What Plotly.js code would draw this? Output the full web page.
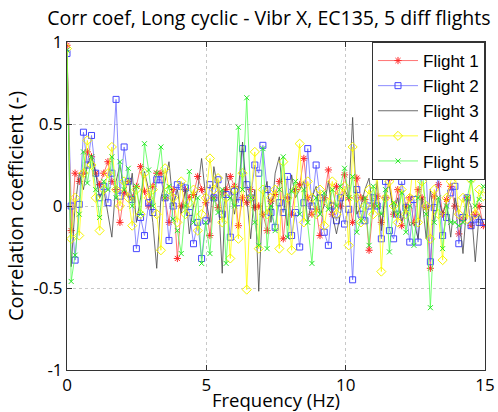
<!DOCTYPE html>
<html>
<head>
<meta charset="utf-8">
<script src="https://cdn.plot.ly/plotly-3.0.1.min.js"></script>
<style>html,body{margin:0;padding:0;background:#fff;}#chart{width:498px;height:412px;}</style>
</head>
<body>
<div id="chart"></div>
<script>
const freq = [0,0.15,0.29,0.44,0.59,0.73,0.88,1.03,1.17,1.32,
 1.47,1.61,1.76,1.9,2.05,2.2,2.34,2.49,2.64,2.78,
 2.93,3.08,3.22,3.37,3.52,3.66,3.81,3.96,4.1,4.25,
 4.39,4.54,4.69,4.83,4.98,5.13,5.27,5.42,5.57,5.71,
 5.86,6.01,6.15,6.3,6.45,6.59,6.74,6.88,7.03,7.18,
 7.32,7.47,7.62,7.76,7.91,8.06,8.2,8.35,8.5,8.64,
 8.79,8.94,9.08,9.23,9.38,9.52,9.67,9.81,9.96,10.11,
 10.25,10.4,10.55,10.69,10.84,10.99,11.13,11.28,11.43,11.57,
 11.72,11.87,12.01,12.16,12.3,12.45,12.6,12.74,12.89,13.04,
 13.18,13.33,13.48,13.62,13.77,13.92,14.06,14.21,14.36,14.5,
 14.65,14.79,14.94];

const flight1 = [0.98,-0.15,0.2,0.15,0.2,0.33,0.3,0.2,0.13,0.2,
 0.27,0.15,0.1,-0.1,0.08,0.15,0.05,0.12,0.24,0.09,
 0.0,0.12,0.2,0.2,0.05,-0.1,0.1,-0.32,0.0,0.1,
 0.05,0.07,0.18,0.1,0.02,-0.18,0.05,-0.01,0.08,0.1,
 0.18,0.12,-0.12,0.05,0.02,0.1,-0.01,0.0,-0.05,-0.15,
 0.03,0.07,0.15,-0.2,0.05,-0.05,0.1,0.13,0.29,0.05,
 -0.05,-0.02,-0.18,0.05,0.22,-0.05,0.12,0.0,0.19,0.05,
 -0.1,0.17,0.05,0.04,-0.27,0.0,0.06,-0.1,0.05,0.17,
 -0.05,0.1,-0.12,0.0,0.05,-0.1,0.1,0.05,-0.01,-0.38,
 0.06,0.13,-0.05,0.04,0.12,0.0,-0.17,-0.08,0.05,-0.12,
 -0.05,0.0,-0.12];

const flight2 = [0.93,0.0,-0.33,0.01,0.45,0.25,0.43,0.2,0.05,0.12,
 0.02,0.2,0.65,0.06,0.36,0.15,0.04,-0.26,-0.07,-0.18,
 0.02,-0.04,0.16,0.16,0.05,-0.21,0.0,0.13,0.12,0.11,
 -0.04,-0.23,-0.1,-0.32,-0.09,0.13,0.05,0.16,-0.05,0.07,
 -0.19,0.09,0.02,0.35,0.13,0.05,0.25,0.2,0.37,0.1,
 -0.04,-0.13,0.02,-0.04,0.18,-0.18,-0.04,-0.25,0.02,0.35,
 0.0,0.25,0.05,-0.16,-0.24,0.0,-0.09,0.05,-0.11,-0.02,
 -0.45,0.1,-0.05,-0.09,0.0,0.05,0.0,-0.2,0.15,-0.15,
 -0.2,-0.05,0.15,-0.01,-0.22,0.04,-0.22,0.2,0.19,-0.34,
 -0.01,0.2,-0.18,-0.07,0.08,0.12,-0.23,-0.07,0.05,-0.12,
 -0.08,-0.1,-0.1];

const flight3 = [0.95,-0.37,0.0,0.2,0.1,0.25,0.31,0.2,0.05,0.1,
 -0.05,-0.19,0.15,0.25,0.1,0.05,0.2,-0.1,0.05,0.21,
 0.1,-0.1,-0.38,0.05,0.15,0.27,0.0,0.1,-0.05,0.1,
 -0.17,0.0,0.1,0.29,0.05,-0.1,0.24,0.1,-0.41,0.2,
 0.1,-0.05,0.1,0.39,0.05,-0.2,0.1,-0.52,0.05,0.15,
 -0.1,0.2,0.3,0.05,-0.12,0.19,0.05,0.1,0.15,-0.1,
 0.05,0.12,-0.05,0.0,0.15,-0.05,-0.17,-0.05,0.1,0.05,
 0.54,-0.05,0.0,0.1,0.17,-0.05,0.15,-0.15,0.1,0.12,
 -0.05,0.05,-0.1,0.0,-0.12,-0.1,-0.2,0.05,-0.2,0.1,
 -0.1,0.05,-0.05,0.02,-0.19,0.05,-0.05,-0.29,0.05,0.0,
 -0.34,-0.05,-0.1];

const flight4 = [0.96,-0.2,0.05,-0.18,0.2,0.4,0.25,0.05,-0.15,0.1,
 0.2,0.36,0.1,0.0,0.15,0.05,-0.12,0.1,-0.05,0.2,
 0.05,0.1,-0.05,-0.27,0.23,0.1,0.05,-0.1,0.15,-0.05,
 0.02,0.1,-0.15,-0.05,0.05,0.29,0.1,0.17,-0.1,0.05,
 -0.32,0.1,-0.2,0.2,-0.51,0.05,0.33,-0.26,0.1,-0.05,
 0.05,0.1,-0.26,0.27,0.05,-0.27,0.1,0.38,-0.1,0.15,
 0.05,-0.05,0.1,-0.12,0.02,0.15,-0.05,0.08,0.12,-0.24,
 0.36,0.05,-0.1,0.0,0.1,-0.05,0.21,-0.4,0.05,0.15,
 0.0,-0.1,0.1,-0.05,0.05,0.3,-0.1,0.15,0.0,-0.2,
 0.1,-0.05,-0.33,0.05,0.15,0.22,-0.05,0.05,-0.08,0.16,
 -0.05,0.1,0.06];

const flight5 = [0.95,-0.46,-0.3,-0.05,0.33,0.14,0.3,0.1,-0.07,0.15,
 0.1,0.3,0.05,0.27,0.1,0.23,0.0,0.12,-0.05,0.38,
 0.22,0.0,0.2,0.36,0.05,0.12,-0.08,-0.15,-0.29,0.0,
 0.21,-0.1,0.05,-0.35,-0.1,-0.29,0.05,-0.04,0.1,-0.35,
 0.05,0.0,0.48,0.1,0.66,0.05,-0.1,-0.24,0.35,-0.26,
 0.0,-0.15,0.1,0.3,-0.19,0.09,0.15,-0.05,0.1,-0.1,
 -0.35,0.05,-0.05,0.08,-0.02,0.1,0.0,0.12,0.23,0.05,
 0.18,-0.16,-0.09,0.05,-0.24,0.12,0.0,-0.05,0.1,-0.28,
 0.02,-0.05,0.08,-0.16,0.0,-0.24,0.05,0.24,-0.05,-0.62,
 -0.1,0.05,-0.26,0.0,-0.1,-0.1,-0.12,-0.1,0.05,0.16,
 0.0,0.04,0.12];

const seriesNames = ['Flight 1','Flight 2','Flight 3','Flight 4','Flight 5'];
const xTickVals = [0,5,10,15];
const xTickText = ['0','5','10','15'];
const yTickVals = [-1,-0.5,0,0.5,1];
const yTickText = ['-1','-0.5','0','0.5','1'];

const styles = [
  {color:'rgb(255,80,80)', marker:{symbol:'asterisk-open', size:6, color:'rgb(255,40,40)', line:{width:1, color:'rgb(255,40,40)'}}, mode:'lines+markers'},
  {color:'rgb(110,110,255)', marker:{symbol:'square-open', size:6, color:'rgb(70,70,255)', line:{width:1}}, mode:'lines+markers'},
  {color:'rgb(70,70,70)', marker:null, mode:'lines'},
  {color:'rgb(255,255,0)', marker:{symbol:'diamond-open', size:7, color:'rgb(245,245,0)', line:{width:1}}, mode:'lines+markers'},
  {color:'rgb(80,255,80)', marker:{symbol:'x-thin-open', size:5, color:'rgb(40,230,40)', line:{width:1, color:'rgb(40,230,40)'}}, mode:'lines+markers'}
];
const ys = [flight1, flight2, flight3, flight4, flight5];

const traces = ys.map((y, k) => {
  const t = {x: freq, y: y, name: seriesNames[k], type:'scatter', mode: styles[k].mode,
    line:{color: styles[k].color, width:0.8}};
  if (styles[k].marker) t.marker = styles[k].marker;
  return t;
});

const tickFont = {family:'Open Sans, Liberation Sans, sans-serif', size:17, color:'#000'};
const xTitleFont = {family:'Open Sans, Liberation Sans, sans-serif', size:18.5, color:'#000'};
const yTitleFont = {family:'Open Sans, Liberation Sans, sans-serif', size:20, color:'#000'};
const layout = {
  width:498, height:412,
  margin:{l:67, r:13, t:42, b:42, pad:0},
  paper_bgcolor:'#fff', plot_bgcolor:'#fff',
  showlegend:true,
  title:{text:'Corr coef, Long cyclic - Vibr X, EC135, 5 diff flights', font:{family:'Open Sans, sans-serif', size:19.5, color:'#000'}, x:0.54, xanchor:'center', y:0.955, yanchor:'middle'},
  xaxis:{range:[0,15], tickvals:xTickVals, ticktext:xTickText, ticks:'inside', ticklen:5, tickcolor:'#333',
    showline:true, linecolor:'#333', linewidth:1, mirror:'ticks', showgrid:true, gridcolor:'#c8c8c8', griddash:'dot', gridwidth:1,
    zeroline:false, tickfont:tickFont, automargin:false, title:{text:'Frequency (Hz)', font:xTitleFont, standoff:7}},
  yaxis:{range:[-1,1], tickvals:yTickVals, ticktext:yTickText, ticks:'inside', ticklen:5, tickcolor:'#333',
    showline:true, linecolor:'#333', linewidth:1, mirror:'ticks', showgrid:true, gridcolor:'#c8c8c8', griddash:'dot', gridwidth:1,
    zeroline:false, tickfont:tickFont, automargin:false, title:{text:'Correlation coefficient (-)', font:yTitleFont, standoff:4}},
  legend:{x:1, y:1, xanchor:'right', yanchor:'top', bgcolor:'#fff', bordercolor:'#333', borderwidth:1,
    font:{family:'Liberation Sans, Arial, sans-serif', size:17, color:'#000'}, tracegroupgap:0, itemwidth:40}
};

Plotly.newPlot('chart', traces, layout, {displayModeBar:false, staticPlot:true});
</script>
</body>
</html>
